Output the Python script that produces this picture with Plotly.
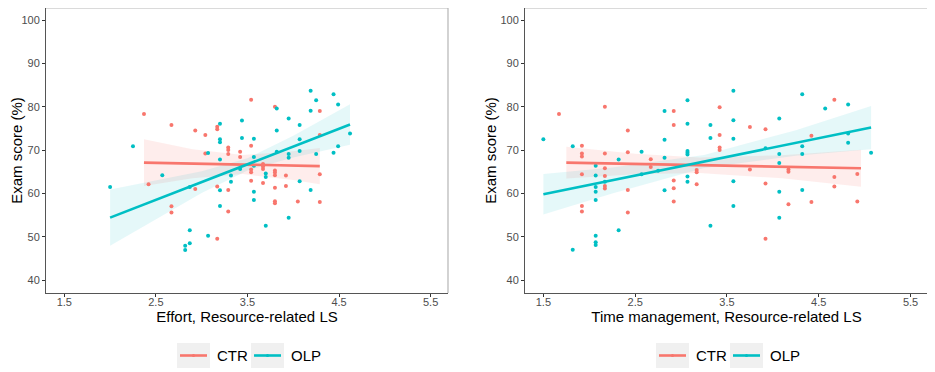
import plotly.graph_objects as go

W, H = 935, 372
OFF = 8  # default page body margin shifts the figure; compensate
RED = "#F8766D"
TEAL = "#00BFC4"
RED_FILL = "rgba(248,118,109,0.13)"
TEAL_FILL = "rgba(0,191,196,0.10)"
FONT = "Liberation Sans, Arial, Helvetica, sans-serif"

groups = ["CTR", "OLP"]
x_titles = ["Effort, Resource-related LS", "Time management, Resource-related LS"]
y_title = "Exam score (%)"
x_ticks = [1.5, 2.5, 3.5, 4.5, 5.5]
x_tick_labels = ["1.5", "2.5", "3.5", "4.5", "5.5"]
y_ticks = [40, 50, 60, 70, 80, 90, 100]
y_tick_labels = ["40", "50", "60", "70", "80", "90", "100"]

# ---------- Panel 1: Effort ----------
effort_ctr_x = [2.37, 2.67, 2.93, 3.04, 3.17, 3.17, 3.29, 3.29, 3.29, 3.04, 3.42, 3.42, 3.54, 3.54,
                3.54, 3.54, 3.54, 2.42, 2.93, 3.17, 3.29, 2.67, 2.67, 3.29, 3.17, 3.80, 4.29, 3.67,
                3.67, 3.67, 3.80, 3.80, 3.80, 3.92, 4.29, 3.67, 3.80, 3.92, 3.80, 3.80, 4.05, 4.29, 4.29]
effort_ctr_y = [78.3, 75.8, 74.5, 73.5, 75.4, 74.8, 70.6, 70.0, 69.1, 69.2, 69.6, 68.4, 81.6, 71.0,
                65.5, 64.9, 62.9, 62.1, 61.0, 61.6, 60.8, 57.0, 55.6, 55.8, 49.5, 80.0, 79.0, 66.8,
                66.2, 65.6, 65.3, 64.8, 64.2, 64.1, 64.4, 62.4, 61.3, 61.7, 58.2, 57.7, 58.1, 58.0, 73.5]
effort_olp_x = [2.00, 2.25, 2.57, 3.20, 3.20, 3.20, 3.07, 3.20, 3.44, 3.44, 3.57, 3.57, 3.32, 3.32,
                3.20, 3.20, 3.57, 3.57, 2.87, 3.07, 2.87, 2.82, 2.82, 2.87, 3.42, 4.19, 4.44, 4.25,
                4.49, 3.82, 4.19, 3.95, 4.07, 3.82, 4.07, 4.62, 4.49, 4.44, 4.25, 4.07, 3.95, 3.95,
                3.82, 3.70, 3.70, 3.57, 4.07, 4.19, 3.95, 3.70]
effort_olp_y = [61.5, 70.9, 64.2, 76.1, 72.5, 71.8, 69.3, 67.8, 76.8, 72.8, 72.6, 68.4, 64.1, 62.7,
                60.7, 57.1, 60.4, 58.5, 51.5, 50.2, 48.5, 47.9, 46.9, 61.5, 65.6, 83.7, 82.9, 81.5,
                80.5, 79.6, 79.1, 77.3, 75.8, 74.5, 72.5, 73.8, 70.9, 69.4, 69.1, 69.8, 69.1, 68.2,
                69.6, 64.6, 63.8, 66.4, 62.8, 60.8, 54.4, 52.5]
# fitted lines and confidence bands
effort_ctr_fit_x = [2.37, 2.90, 3.45, 4.00, 4.29]
effort_ctr_fit_y = [67.1, 66.88, 66.65, 66.42, 66.3]
effort_ctr_lo = [61.7, 63.5, 64.45, 63.1, 62.1]
effort_ctr_hi = [72.5, 70.2, 68.85, 69.75, 70.5]
effort_olp_fit_x = [2.00, 2.50, 3.00, 3.50, 4.00, 4.62]
effort_olp_fit_y = [54.4, 58.5, 62.6, 66.7, 70.8, 75.9]
effort_olp_lo = [47.9, 54.0, 60.1, 65.3, 68.3, 71.2]
effort_olp_hi = [60.9, 63.0, 65.1, 68.1, 73.3, 80.6]

# ---------- Panel 2: Time management ----------
time_ctr_x = [1.67, 2.17, 2.92, 2.92, 2.42, 1.92, 1.92, 1.92, 2.17, 2.42, 2.67, 2.67, 2.17, 1.92,
              2.17, 3.17, 3.17, 2.92, 2.17, 2.17, 2.92, 3.17, 2.42, 1.92, 1.92, 2.92, 2.42, 3.42,
              4.67, 3.75, 3.92, 3.42, 3.42, 3.42, 4.42, 3.75, 4.17, 4.17, 4.92, 4.67, 3.92, 4.67,
              4.17, 4.42, 4.92, 3.92]
time_ctr_y = [78.3, 80.0, 79.0, 75.8, 74.5, 71.0, 69.2, 68.5, 69.2, 69.5, 67.9, 66.1, 65.8, 64.4,
              64.0, 65.4, 64.9, 63.0, 61.7, 61.1, 61.2, 62.1, 60.8, 57.1, 55.8, 58.1, 55.6, 79.9,
              81.6, 75.3, 74.8, 73.5, 70.6, 70.0, 73.3, 65.5, 65.5, 65.0, 64.5, 63.8, 62.3, 61.6,
              57.5, 58.0, 58.1, 49.5]
time_olp_x = [1.50, 1.82, 2.07, 2.07, 2.07, 2.07, 2.07, 2.32, 2.57, 2.57, 2.82, 2.82, 2.82, 2.82,
              3.07, 3.07, 3.07, 3.07, 3.07, 3.07, 3.07, 3.32, 3.32, 3.32, 2.32, 2.07, 2.07, 2.07,
              1.82, 2.17, 2.75, 3.57, 4.32, 4.82, 4.57, 4.07, 3.57, 3.57, 4.82, 4.32, 4.82, 5.07,
              4.07, 4.32, 4.07, 3.57, 4.07, 4.32, 3.57, 4.07, 3.92]
time_olp_y = [72.5, 70.9, 66.4, 64.1, 61.5, 60.4, 58.5, 67.8, 69.6, 64.4, 79.0, 72.4, 68.2, 60.7,
              81.5, 76.1, 69.8, 69.4, 69.0, 63.9, 62.7, 75.8, 72.8, 52.5, 51.5, 50.2, 48.7, 48.1,
              47.0, 62.7, 65.2, 83.7, 82.9, 80.5, 79.6, 77.3, 76.9, 72.6, 73.8, 70.9, 71.7, 69.4,
              69.1, 69.1, 67.0, 62.8, 60.4, 60.8, 57.1, 54.4, 70.4]
time_ctr_fit_x = [1.75, 2.50, 3.20, 4.10, 4.96]
time_ctr_fit_y = [67.1, 66.8, 66.51, 66.15, 65.8]
time_ctr_lo = [63.45, 64.44, 64.71, 63.48, 61.55]
time_ctr_hi = [70.75, 69.16, 68.31, 68.82, 70.05]
time_olp_fit_x = [1.50, 2.25, 3.25, 4.25, 5.07]
time_olp_fit_y = [59.8, 63.0, 67.35, 71.65, 75.2]
time_olp_lo = [55.1, 60.0, 65.85, 68.7, 70.2]
time_olp_hi = [64.5, 66.0, 68.85, 74.6, 80.2]

panels = [
    dict(pts=[(effort_ctr_x, effort_ctr_y), (effort_olp_x, effort_olp_y)],
         fits=[(effort_ctr_fit_x, effort_ctr_fit_y, effort_ctr_lo, effort_ctr_hi),
               (effort_olp_fit_x, effort_olp_fit_y, effort_olp_lo, effort_olp_hi)]),
    dict(pts=[(time_ctr_x, time_ctr_y), (time_olp_x, time_olp_y)],
         fits=[(time_ctr_fit_x, time_ctr_fit_y, time_ctr_lo, time_ctr_hi),
               (time_olp_fit_x, time_olp_fit_y, time_olp_lo, time_olp_hi)]),
]
colors = [RED, TEAL]
fills = [RED_FILL, TEAL_FILL]

fig = go.Figure()
for i, p in enumerate(panels):
    xa = "x" if i == 0 else "x2"
    ya = "y" if i == 0 else "y2"
    for g in range(2):
        fx, fy, lo, hi = p["fits"][g]
        fig.add_trace(go.Scatter(x=fx + fx[::-1], y=hi + lo[::-1], fill="toself",
                                 fillcolor=fills[g], line=dict(width=0), mode="lines",
                                 hoverinfo="skip", showlegend=False, xaxis=xa, yaxis=ya))
    for g in range(2):
        px_, py_ = p["pts"][g]
        fig.add_trace(go.Scatter(x=px_, y=py_, mode="markers", name=groups[g],
                                 marker=dict(color=colors[g], size=4),
                                 showlegend=False, xaxis=xa, yaxis=ya))
    for g in range(2):
        fx, fy, lo, hi = p["fits"][g]
        fig.add_trace(go.Scatter(x=fx, y=fy, mode="lines", line=dict(color=colors[g], width=2.6),
                                 showlegend=False, xaxis=xa, yaxis=ya))

def px2x(v):
    return (v - OFF) / W

def px2y(v):
    return 1 - (v - OFF) / H

doms = [(46, 448), (525, 928)]
top, bot = 8, 293
common_x = dict(range=[1.3, 5.69], tickvals=x_ticks, ticktext=x_tick_labels, ticks="outside",
                ticklen=3, tickcolor="#333333", showline=True, linecolor="#555555", linewidth=1,
                showgrid=False, zeroline=False, automargin=False, ticklabelstandoff=-4,
                tickfont=dict(size=11, color="#4d4d4d", family=FONT))
common_y = dict(range=[37, 102.8], tickvals=y_ticks, ticktext=y_tick_labels, ticks="outside",
                ticklen=3, tickcolor="#333333", showline=True, linecolor="#555555", linewidth=1,
                showgrid=False, zeroline=False, automargin=False,
                tickfont=dict(size=11, color="#4d4d4d", family=FONT))

layout = dict(width=W, height=H, margin=dict(l=0, r=0, t=0, b=0, autoexpand=False),
              plot_bgcolor="white", paper_bgcolor="white",
              font=dict(family=FONT, color="black"), showlegend=False)
for i in range(2):
    sx = "" if i == 0 else "2"
    layout["xaxis" + sx] = dict(common_x, domain=[px2x(doms[i][0]), px2x(doms[i][1])],
                                anchor="y" + sx,
                                title=dict(text=x_titles[i], font=dict(size=15, color="black"),
                                           standoff=2))
    layout["yaxis" + sx] = dict(common_y, domain=[px2y(bot), px2y(top)], anchor="x" + sx,
                                title=dict(text=y_title, font=dict(size=15, color="black"),
                                           standoff=0))
fig.update_layout(**layout)

shapes = []
annotations = []
for (l, r) in doms:
    shapes.append(dict(type="line", xref="paper", yref="paper", x0=px2x(l), x1=px2x(r),
                       y0=px2y(top), y1=px2y(top), line=dict(color="#b5b5b5", width=1.2)))
    shapes.append(dict(type="line", xref="paper", yref="paper", x0=px2x(r), x1=px2x(r),
                       y0=px2y(top), y1=px2y(bot), line=dict(color="#b5b5b5", width=1.2)))

legend_boxes = [[(177, 210), (251, 284)], [(656, 689), (730, 763)]]
ly0, ly1, lyc = 343, 368, 355.5
for pi in range(2):
    for g in range(2):
        b0, b1 = legend_boxes[pi][g]
        shapes.append(dict(type="rect", xref="paper", yref="paper", x0=px2x(b0), x1=px2x(b1),
                           y0=px2y(ly1), y1=px2y(ly0), fillcolor="#f0f0f0", line=dict(width=0)))
        shapes.append(dict(type="line", xref="paper", yref="paper", x0=px2x(b0 + 3), x1=px2x(b1 - 3),
                           y0=px2y(lyc), y1=px2y(lyc), line=dict(color=colors[g], width=2.6)))
        shapes.append(dict(type="circle", xref="paper", yref="paper", x0=px2x((b0 + b1) / 2 - 1.5),
                           x1=px2x((b0 + b1) / 2 + 1.5), y0=px2y(lyc + 1.5), y1=px2y(lyc - 1.5),
                           fillcolor=colors[g], line=dict(width=0)))
        annotations.append(dict(text=groups[g], xref="paper", yref="paper", x=px2x(b1 + 5),
                                y=px2y(lyc), xanchor="left", yanchor="middle", showarrow=False,
                                font=dict(size=15, color="black", family=FONT)))
fig.update_layout(shapes=shapes, annotations=annotations)

fig.write_html("out.html")
